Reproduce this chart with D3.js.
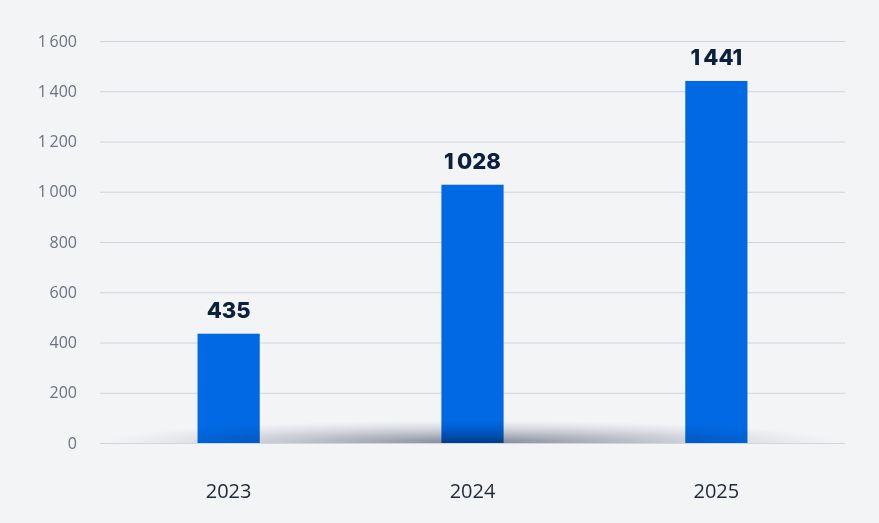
<!DOCTYPE html>
<html><head><meta charset="utf-8">
<script src="https://cdn.jsdelivr.net/npm/d3@7"></script>
<style>body{margin:0;background:#f3f4f6;}svg{display:block;font-family:"Open Sans",sans-serif;}</style>
</head><body><svg id="c" width="879" height="523"></svg>
<script>
const categories=["2023","2024","2025"];
const values=[435,1028,1441];
const yTicks=[0,200,400,600,800,1000,1200,1400,1600];
const svg=d3.select("#c");
const x=d3.scaleBand().domain(categories).range([100,845]).paddingInner(0.745).paddingOuter(0.4);
const y=d3.scaleLinear().domain([0,1600]).range([443,41]);
const fmt=v=>d3.format(",")(v).replace(/,/g,"\u2009");
const defs=svg.append("defs");
const rg=defs.append("radialGradient").attr("id","sh").attr("cx","0.5").attr("cy","1").attr("r","0.5")
 .attr("gradientTransform","translate(0.5,1) scale(1,0.13) translate(-0.5,-1)");
rg.append("stop").attr("offset","0").attr("stop-color","#1e2a44").attr("stop-opacity",0.55);
rg.append("stop").attr("offset","0.5").attr("stop-color","#3a4660").attr("stop-opacity",0.25);
rg.append("stop").attr("offset","1").attr("stop-color","#8a93a5").attr("stop-opacity",0);
svg.append("g").selectAll("line").data(yTicks).join("line")
 .attr("x1",100).attr("x2",845).attr("y1",d=>y(d)+0.5).attr("y2",d=>y(d)+0.5)
 .attr("stroke","#cfd5de").attr("stroke-width",1);
svg.append("g").selectAll("text").data(yTicks).join("text")
 .attr("x",77).attr("y",d=>y(d)).attr("dy","0.35em").attr("text-anchor","end")
 .attr("fill","#6b7280").attr("font-size",16).text(fmt);
svg.append("g").selectAll("rect").data(values).join("rect")
 .attr("x",(d,i)=>x(categories[i])).attr("width",x.bandwidth())
 .attr("y",d=>y(d)).attr("height",d=>y(0)-y(d)).attr("fill","#0069e3");
svg.append("rect").attr("x",100).attr("width",745).attr("y",y(0)-350).attr("height",350)
 .attr("fill","url(#sh)").style("mix-blend-mode","multiply");
svg.append("g").selectAll("text").data(values).join("text")
 .attr("x",(d,i)=>x(categories[i])+x.bandwidth()/2).attr("y",d=>y(d)-16)
 .attr("text-anchor","middle").attr("fill","#0b1f3f").attr("font-size",22).attr("font-weight",800)
 .attr("font-family","Inter, sans-serif").text(fmt);
svg.append("g").selectAll("text").data(categories).join("text")
 .attr("x",d=>x(d)+x.bandwidth()/2).attr("y",498).attr("text-anchor","middle")
 .attr("fill","#1f2937").attr("font-size",20).text(d=>d);
</script></body></html>
